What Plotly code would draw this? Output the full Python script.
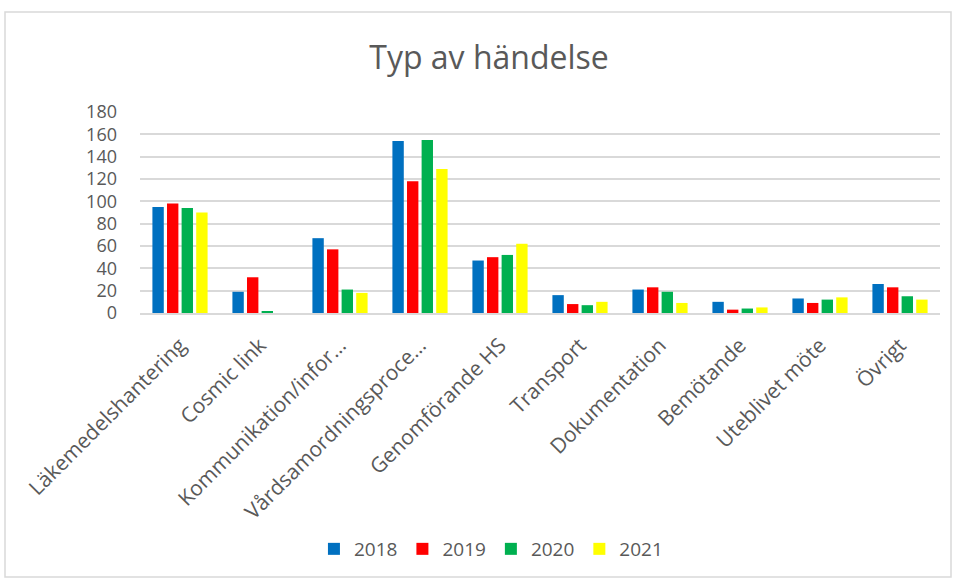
import plotly.graph_objects as go

categories = ["Läkemedelshantering", "Cosmic link", "Kommunikation/infor…",
              "Vårdsamordningsproce…", "Genomförande HS", "Transport",
              "Dokumentation", "Bemötande", "Uteblivet möte", "Övrigt"]
years = ["2018", "2019", "2020", "2021"]
v2018 = [95, 19, 67, 154, 47, 16, 21, 10, 13, 26]
v2019 = [98, 32, 57, 118, 50, 8, 23, 3, 9, 23]
v2020 = [94, 1, 21, 155, 52, 7, 19, 4, 12, 15]
v2021 = [90, 0, 18, 129, 62, 10, 9, 5, 14, 12]
colors = ["#0070C0", "#FF0000", "#00B050", "#FFFF00"]
y_ticks = [0, 20, 40, 60, 80, 100, 120, 140, 160, 180]

fig = go.Figure()
for name, vals, col in zip(years, [v2018, v2019, v2020, v2021], colors):
    fig.add_trace(go.Bar(x=categories, y=vals, name=name,
                         marker=dict(color=col, line=dict(width=0))))

W, H = 957, 581
L, R, T, B = 140, 17, 112, 268
pw, ph = W - L - R, H - T - B

def px2paper(x, y):
    return (x - L) / pw, (H - B - y) / ph

x0, y0 = px2paper(5, 12)
x1, y1 = px2paper(951, 577)

fig.update_layout(
    width=W, height=H,
    margin=dict(l=L, r=R, t=T, b=B, autoexpand=False),
    paper_bgcolor="white", plot_bgcolor="white",
    font=dict(family="Open Sans", color="#595959"),
    title=dict(text="Typ av händelse", x=0.511, xref="container", xanchor="center",
               y=1 - 58 / H, yref="container", yanchor="middle",
               font=dict(size=32, color="#595959", family="Open Sans")),
    barmode="group", bargap=0.27, bargroupgap=0.22,
    showlegend=True,
    legend=dict(orientation="h", xref="container", x=0.513, xanchor="center",
                yref="container", y=1 - 549 / H, yanchor="middle",
                font=dict(size=19, color="#595959"), traceorder="normal",
                itemwidth=30),
    shapes=[dict(type="rect", xref="paper", yref="paper", x0=x0, y0=y1, x1=x1, y1=y0,
                 line=dict(color="#d9d9d9", width=1.5), layer="below")],
)
fig.update_xaxes(tickangle=-45, tickfont=dict(size=21, color="#595959"),
                 showline=True, linecolor="#d9d9d9", linewidth=1.5, ticks="",
                 showgrid=False, automargin=False, ticklabelstandoff=10)
fig.update_yaxes(range=[0, 180], tickvals=y_ticks, tickfont=dict(size=18, color="#595959"),
                 showgrid=True, gridcolor="#d9d9d9", gridwidth=1.5, zeroline=False,
                 showline=False, ticks="", automargin=False, ticklabelstandoff=22)

fig.write_html("out.html", config={"displayModeBar": False},
               post_script="document.body.style.margin='0px';")
